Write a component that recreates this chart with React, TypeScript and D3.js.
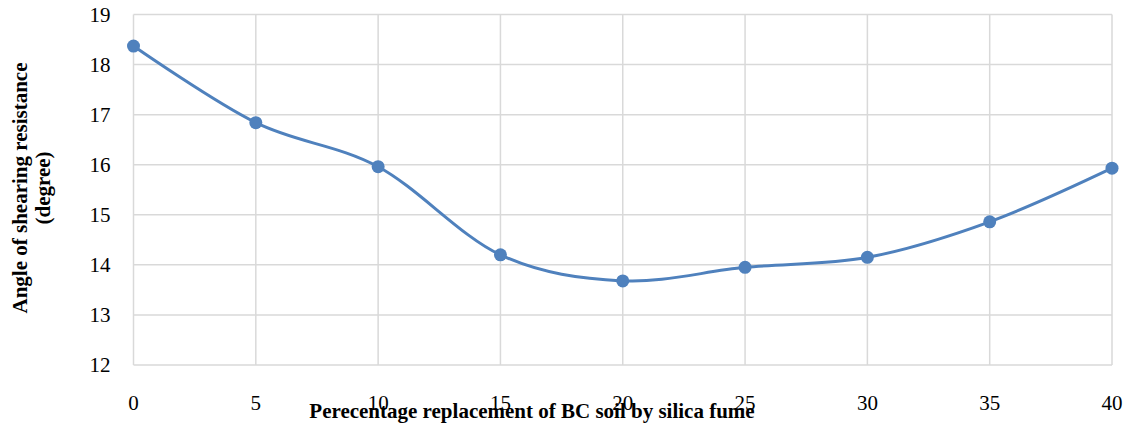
import * as d3 from 'd3';

const replacement = [0, 5, 10, 15, 20, 25, 30, 35, 40];
const shearAngle = [18.37, 16.84, 15.96, 14.2, 13.68, 13.95, 14.15, 14.86, 15.93];
const yTicks = [12, 13, 14, 15, 16, 17, 18, 19];

const width = 1129;
const height = 427;
const margin = { top: 14.5, right: 17, bottom: 62, left: 133.5 };

export default function App() {
  const innerWidth = width - margin.left - margin.right;
  const innerHeight = height - margin.top - margin.bottom;

  const x = d3.scaleLinear().domain([0, 40]).range([0, innerWidth]);
  const y = d3.scaleLinear().domain([12, 19]).range([innerHeight, 0]);

  const line = d3
    .line<number>()
    .x((_, i) => x(replacement[i]))
    .y((d) => y(d))
    .curve(d3.curveCardinal.tension(0));

  const font = "'Liberation Serif', 'Times New Roman', serif";

  return (
    <svg
      width={width}
      height={height}
      style={{ position: 'absolute', left: 0, top: 0, background: '#fff', fontFamily: font }}
    >
      <g transform={`translate(${margin.left},${margin.top})`}>
        {/* grid */}
        {yTicks.map((t) => (
          <line key={`h${t}`} x1={0} x2={innerWidth} y1={y(t)} y2={y(t)} stroke="#d9d9d9" strokeWidth={1.5} />
        ))}
        {replacement.map((t) => (
          <line key={`v${t}`} x1={x(t)} x2={x(t)} y1={0} y2={innerHeight} stroke="#d9d9d9" strokeWidth={1.5} />
        ))}

        {/* tick labels */}
        {yTicks.map((t) => (
          <text key={`yl${t}`} x={-23} y={y(t)} dy="0.35em" textAnchor="end" fontSize={21} fill="#000">
            {t}
          </text>
        ))}
        {replacement.map((t) => (
          <text key={`xl${t}`} x={x(t)} y={innerHeight + 45} textAnchor="middle" fontSize={21} fill="#000">
            {t}
          </text>
        ))}

        <path d={line(shearAngle) ?? ''} fill="none" stroke="#4f81bd" strokeWidth={3} />
        {shearAngle.map((v, i) => (
          <circle key={`p${i}`} cx={x(replacement[i])} cy={y(v)} r={6.5} fill="#4f81bd" />
        ))}
      </g>

      <text x={532} y={418} textAnchor="middle" fontSize={21} fontWeight="bold" fill="#000">
        Perecentage replacement of BC soil by silica fume
      </text>
      <g transform="translate(0,188) rotate(-90)">
        <text x={0} y={27} textAnchor="middle" fontSize={21} fontWeight="bold" fill="#000">
          Angle of shearing resistance
        </text>
        <text x={0} y={50} textAnchor="middle" fontSize={21} fontWeight="bold" fill="#000">
          (degree)
        </text>
      </g>
    </svg>
  );
}
